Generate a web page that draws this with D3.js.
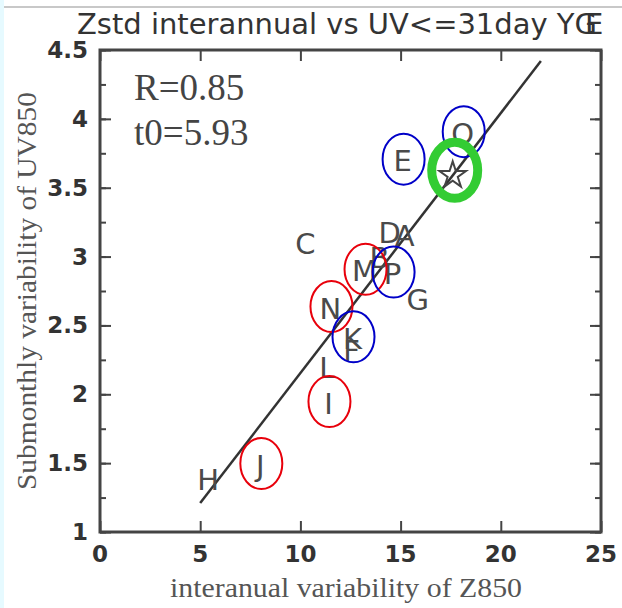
<!DOCTYPE html>
<html>
<head>
<meta charset="utf-8">
<script src="https://cdn.jsdelivr.net/npm/d3@7"></script>
<style>
  body { margin: 0; background: #fff; }
  svg { display: block; }
</style>
</head>
<body>
<div id="chart"></div>
<script>
// station letters and their values
var labels = ["A", "B", "C", "D", "E", "F", "G", "H", "I", "J", "K", "L", "M", "N", "O", "P"];
var zVals  = [15.2, 13.95, 10.25, 14.45, 15.1, 12.55, 15.85, 5.4, 11.4, 8.0, 12.6, 11.35, 13.2, 11.5, 18.1, 14.6];
var uvVals = [3.16, 3.0, 3.10, 3.18, 3.70, 2.32, 2.69, 1.385, 1.94, 1.49, 2.41, 2.2, 2.90, 2.63, 3.90, 2.88];

// circled letters
var redCircled  = ["J", "I", "N", "M"];
var blueCircled = ["E", "O", "P", "K"];

// star (mean) point
var starX = [17.6], starY = [3.59];

// regression line endpoints
var fitX = [5, 22], fitY = [1.21, 4.42];

var xTicks = [0, 5, 10, 15, 20, 25];
var yTicks = [1, 1.5, 2, 2.5, 3, 3.5, 4, 4.5];

var W = 622, H = 608;
var margin = {top: 50, right: 21, bottom: 76, left: 100};

var svg = d3.select("#chart").append("svg")
    .attr("width", W)
    .attr("height", H);

// faint page decorations from the screenshot
svg.append("rect").attr("x", 0).attr("y", 0).attr("width", 4).attr("height", H).attr("fill", "#e6faff");
svg.append("line").attr("x1", 4).attr("x2", W).attr("y1", 7).attr("y2", 7)
    .attr("stroke", "#c8c8c8").attr("stroke-width", 2);

var x = d3.scaleLinear().domain([0, 25]).range([margin.left, W - margin.right]);
var y = d3.scaleLinear().domain([1, 4.5]).range([H - margin.bottom, margin.top]);

// title
var title = svg.append("text")
    .attr("x", 77).attr("y", 34)
    .attr("font-family", "DejaVu Sans, sans-serif")
    .attr("font-size", 29)
    .attr("fill", "#333");
title.append("tspan").attr("textLength", 520).attr("lengthAdjust", "spacingAndGlyphs")
    .text("Zstd interannual vs UV<=31day YG");
title.append("tspan").attr("dx", -12).text("E");

// axes
var frame = svg.append("g");
var minor = d3.range(1, 4.5001, 0.25);

frame.append("g")
    .attr("transform", "translate(" + x(0) + ",0)")
    .call(d3.axisRight(y).tickValues(minor).tickSize(6).tickFormat(""));
frame.append("g")
    .attr("transform", "translate(" + x(0) + ",0)")
    .call(d3.axisRight(y).tickValues(yTicks).tickSize(11).tickFormat(""));
frame.append("g")
    .attr("transform", "translate(" + x(25) + ",0)")
    .call(d3.axisLeft(y).tickValues(minor).tickSize(6).tickFormat(""));
frame.append("g")
    .attr("transform", "translate(" + x(25) + ",0)")
    .call(d3.axisLeft(y).tickValues(yTicks).tickSize(11).tickFormat(""));
frame.append("g")
    .attr("transform", "translate(0," + y(1) + ")")
    .call(d3.axisTop(x).tickValues(xTicks).tickSize(11).tickFormat(""));
frame.append("g")
    .attr("transform", "translate(0," + y(4.5) + ")")
    .call(d3.axisBottom(x).tickValues(xTicks).tickSize(11).tickFormat(""));
frame.selectAll(".domain").remove();
frame.selectAll("line").attr("stroke", "#444").attr("stroke-width", 2);

frame.append("rect")
    .attr("x", x(0)).attr("y", y(4.5))
    .attr("width", x(25) - x(0)).attr("height", y(1) - y(4.5))
    .attr("fill", "none").attr("stroke", "#444").attr("stroke-width", 3);

// tick labels
svg.append("g").selectAll("text")
    .data(yTicks).enter().append("text")
    .attr("x", 88).attr("y", function(d) { return y(d); })
    .attr("dy", 8)
    .attr("text-anchor", "end")
    .attr("font-family", "DejaVu Sans, sans-serif")
    .attr("font-weight", "bold")
    .attr("font-size", 23)
    .attr("fill", "#333")
    .text(function(d) { return d; });

svg.append("g").selectAll("text")
    .data(xTicks).enter().append("text")
    .attr("x", function(d) { return x(d); }).attr("y", 562)
    .attr("text-anchor", "middle")
    .attr("font-family", "DejaVu Sans, sans-serif")
    .attr("font-weight", "bold")
    .attr("font-size", 23)
    .attr("fill", "#333")
    .text(function(d) { return d; });

// axis titles
svg.append("text")
    .attr("x", 346).attr("y", 597)
    .attr("text-anchor", "middle")
    .attr("font-family", "Liberation Serif, Times New Roman, serif")
    .attr("font-size", 28)
    .attr("textLength", 352).attr("lengthAdjust", "spacingAndGlyphs")
    .attr("fill", "#555")
    .text("interanual variability of Z850");

svg.append("text")
    .attr("transform", "translate(36,291) rotate(-90)")
    .attr("text-anchor", "middle")
    .attr("font-family", "Liberation Serif, Times New Roman, serif")
    .attr("font-size", 28)
    .attr("textLength", 398).attr("lengthAdjust", "spacingAndGlyphs")
    .attr("fill", "#555")
    .text("Submonthly variability of UV850");

// stats
svg.append("text").attr("x", 134).attr("y", 100)
    .attr("font-family", "Liberation Serif, Times New Roman, serif")
    .attr("font-size", 37).attr("fill", "#444")
    .text("R=0.85");
svg.append("text").attr("x", 134).attr("y", 145)
    .attr("font-family", "Liberation Serif, Times New Roman, serif")
    .attr("font-size", 37).attr("fill", "#444")
    .text("t0=5.93");

// regression line
svg.append("path")
    .datum(d3.zip(fitX, fitY))
    .attr("d", d3.line().x(function(d) { return x(d[0]); }).y(function(d) { return y(d[1]); }))
    .attr("stroke", "#333").attr("stroke-width", 2.5).attr("fill", "none");

// letters
var pts = labels.map(function(l, i) { return {name: l, zx: zVals[i], uv: uvVals[i]}; });

svg.append("g").selectAll("text")
    .data(pts).enter().append("text")
    .attr("x", function(d) { return x(d.zx); })
    .attr("y", function(d) { return y(d.uv); })
    .attr("dy", 11)
    .attr("text-anchor", "middle")
    .attr("font-family", "DejaVu Sans, sans-serif")
    .attr("font-size", 29)
    .attr("fill", "#4a4a4a")
    .text(function(d) { return d.name; });

// star
svg.append("path")
    .attr("transform", "translate(" + x(starX[0]) + "," + y(starY[0]) + ")")
    .attr("d", d3.symbol(d3.symbolStar, 220)())
    .attr("fill", "none").attr("stroke", "#444").attr("stroke-width", 2);

// annotation ellipses
function ring(names, color) {
    svg.append("g").selectAll("ellipse")
        .data(pts.filter(function(d) { return names.indexOf(d.name) >= 0; }))
        .enter().append("ellipse")
        .attr("cx", function(d) { return x(d.zx) + 1; })
        .attr("cy", function(d) { return y(d.uv) - 1; })
        .attr("rx", 21).attr("ry", 25.5)
        .attr("fill", "none").attr("stroke", color).attr("stroke-width", 2);
}
ring(redCircled, "#e8000b");
ring(blueCircled, "#0000c8");

svg.append("ellipse")
    .attr("cx", x(starX[0]) + 2).attr("cy", y(starY[0]) - 5)
    .attr("rx", 23).attr("ry", 28)
    .attr("fill", "none").attr("stroke", "#33cc33").attr("stroke-width", 9);
</script>
</body>
</html>
